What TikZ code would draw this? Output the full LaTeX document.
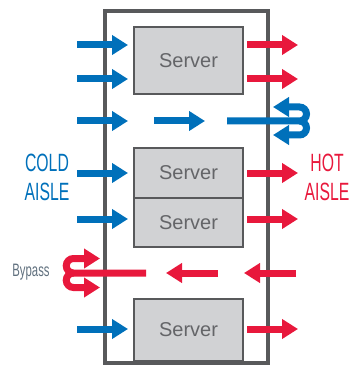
\documentclass[tikz,border=0pt]{standalone}
\usepackage{fontspec}
\setmainfont{Liberation Sans}
\newfontfamily\narrowfont[FakeStretch=0.63]{Liberation Sans}
\usetikzlibrary{arrows.meta}
\definecolor{coldblue}{RGB}{0,112,186}
\definecolor{hotred}{RGB}{232,24,60}
\definecolor{rackgray}{RGB}{88,89,91}
\definecolor{boxgray}{RGB}{209,210,212}
\definecolor{textgray}{RGB}{100,101,104}
\definecolor{labelgray}{RGB}{96,112,126}

\begin{document}
\begin{tikzpicture}
  [x=1pt,y=-1pt,
   flow/.style={line width=7pt,-{Triangle[length=16pt,width=19pt]}},
   cold/.style={flow,draw=coldblue},
   hot/.style={flow,draw=hotred},
   server/.style={draw=rackgray,line width=2.5pt,fill=boxgray,minimum width=109pt,
     inner sep=0pt,text=textgray,font=\fontsize{20}{20}\selectfont},
   aisle/.style={align=center,font=\narrowfont\fontsize{25}{29}\selectfont}]
  \useasboundingbox (0,0) rectangle (354,366);

  % rack and servers
  \node (rack) [draw=rackgray,line width=4pt,minimum width=163pt,minimum height=352pt,inner sep=0pt] at (186.5,187) {};
  \node (s1) [server,minimum height=67pt] at (188.5,60.5) {Server};
  \node (s2) [server,minimum height=50pt] at (188.5,173) {Server};
  \node (s3) [server,minimum height=49pt] at (188.5,222.5) {Server};
  \node (s4) [server,minimum height=62pt] at (188.5,330) {Server};

  % airflow
  \foreach \y in {45,79,121,173,219,329}
    \draw[cold] (77,\y) -- (128,\y);
  \foreach \y in {45,79,173,219,329}
    \draw[hot] (247,\y) -- (298,\y);
  \draw[cold] (154,121) -- (205,121);
  \draw[cold] (227,121) -- (299.5,121) arc(90:-90:7) -- (273,107);
  \draw[cold] (299.5,121) arc(-90:90:7) -- (273,135);
  \draw[hot] (296,273) -- (244,273);
  \draw[hot] (218,273) -- (166,273);
  \draw[hot] (146,273) -- (73.5,273) arc(90:270:7.25) -- (100,258.5);
  \draw[hot] (73.5,273) arc(270:90:7.25) -- (100,287.5);

  % labels
  \node (cold) [aisle,text=coldblue] at (47,177.5) {COLD\\AISLE};
  \node (hot) [aisle,text=hotred] at (327,177.5) {HOT\\AISLE};
  \node (bypass) [text=labelgray,font=\narrowfont\fontsize{18}{18}\selectfont] at (31,272) {Bypass};

\end{tikzpicture}
\end{document}
